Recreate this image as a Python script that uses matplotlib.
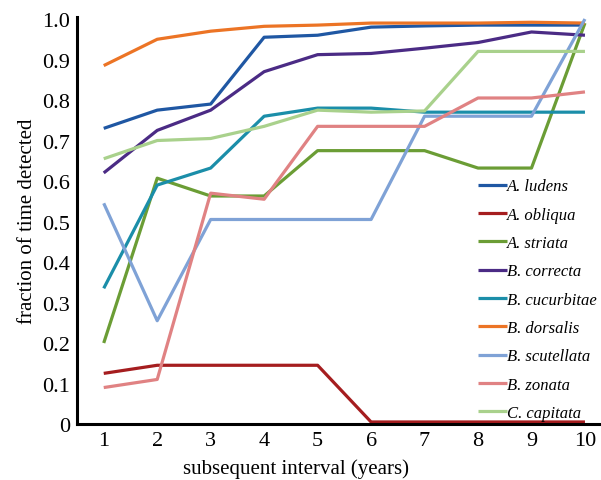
import matplotlib.pyplot as plt

years = [1, 2, 3, 4, 5, 6, 7, 8, 9, 10]

species = ['A. ludens', 'A. obliqua', 'A. striata', 'B. correcta', 'B. cucurbitae',
           'B. dorsalis', 'B. scutellata', 'B. zonata', 'C. capitata']

a_ludens = [0.73, 0.775, 0.79, 0.955, 0.96, 0.98, 0.983, 0.985, 0.985, 0.985]
a_obliqua = [0.125, 0.145, 0.145, 0.145, 0.145, 0.005, 0.005, 0.005, 0.005, 0.005]
a_striata = [0.2, 0.607, 0.563, 0.563, 0.675, 0.675, 0.675, 0.632, 0.632, 0.99]
b_correcta = [0.62, 0.725, 0.775, 0.87, 0.912, 0.915, 0.928, 0.942, 0.968, 0.96]
b_cucurbitae = [0.335, 0.59, 0.632, 0.76, 0.78, 0.78, 0.77, 0.77, 0.77, 0.77]
b_dorsalis = [0.885, 0.95, 0.97, 0.982, 0.985, 0.99, 0.99, 0.99, 0.992, 0.99]
b_scutellata = [0.545, 0.255, 0.505, 0.505, 0.505, 0.505, 0.76, 0.76, 0.76, 1.0]
b_zonata = [0.09, 0.11, 0.57, 0.555, 0.735, 0.735, 0.735, 0.805, 0.805, 0.82]
c_capitata = [0.655, 0.70, 0.705, 0.735, 0.775, 0.77, 0.773, 0.92, 0.92, 0.92]

series = [a_ludens, a_obliqua, a_striata, b_correcta, b_cucurbitae,
          b_dorsalis, b_scutellata, b_zonata, c_capitata]
colors = ['#1f57a3', '#a51d1f', '#6b9d35', '#4b2b85', '#1b8ea9',
          '#ec7425', '#7fa2d6', '#e08283', '#a9d18c']

plt.rcParams['font.family'] = 'Liberation Serif'

fig = plt.figure(figsize=(6.01, 4.81), dpi=100)
ax = fig.add_axes([77/601, 56/481, 524/601, 407/481])

for name, vals, c in zip(species, series, colors):
    ax.plot(years, vals, color=c, lw=2.3, label=name, solid_capstyle='butt')

ax.set_xlim(0.5, 10.3)
ax.set_ylim(0, 1.005)
ax.set_xticks(years)
ax.set_yticks([i / 10 for i in range(11)])
ax.set_yticklabels(['0'] + ['%.1f' % (i / 10) for i in range(1, 11)])
ax.tick_params(length=0, labelsize=16, pad=5)
for s in ['top', 'right']:
    ax.spines[s].set_visible(False)
for s in ['left', 'bottom']:
    ax.spines[s].set_linewidth(2.2)
ax.set_xlabel('subsequent interval (years)', fontsize=15)
ax.xaxis.set_label_coords(0.418, -0.085)
ax.set_ylabel('fraction of time detected', fontsize=15, labelpad=4)

leg = ax.legend(loc='lower left', bbox_to_anchor=(0.765, 0.007), frameon=False,
                prop={'style': 'italic', 'size': 12}, handlelength=1.75,
                handletextpad=0.0, labelspacing=0.74, borderaxespad=0,
                borderpad=0)

fig.savefig('out.png', dpi=100)
